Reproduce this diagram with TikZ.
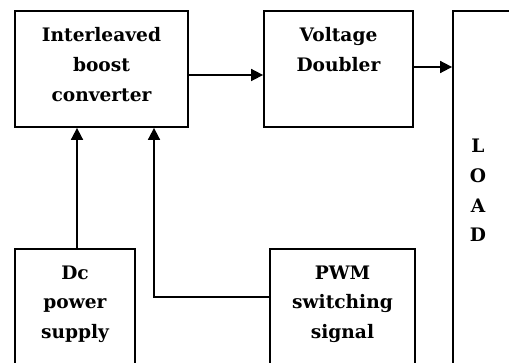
\documentclass[tikz,border=0pt]{standalone}
\usepackage{fontspec}
\setmainfont{DejaVu Serif}
\usetikzlibrary{arrows.meta}
\begin{document}
\begin{tikzpicture}[x=1pt,y=-1pt,
  blk/.style={draw,line width=1.8pt,rectangle,inner sep=0pt},
  lbl/.style={font=\bfseries\fontsize{18.6}{29.7}\selectfont,align=center,anchor=north,inner sep=0pt},
  conn/.style={line width=1.7pt,-{Triangle[length=12pt,width=12pt]}}]
\useasboundingbox (0,0) rectangle (509,363);
\clip (0,0) rectangle (509,363);
\node[blk,minimum width=173pt,minimum height=116pt] (ibc) at (101.5,69) {};
\node[blk,minimum width=149pt,minimum height=116pt] (vd) at (338.5,69) {};
\node[blk,minimum width=80pt,minimum height=380pt] (load) at (493,201) {};
\node[blk,minimum width=120pt,minimum height=140pt] (dc) at (75,319) {};
\node[blk,minimum width=145pt,minimum height=140pt] (pwm) at (342.5,319) {};
\node[lbl] (ibct) at (101.5,27.5) {Interleaved\\boost\\converter};
\node[lbl] (vdt) at (338.5,27.5) {Voltage\\Doubler};
\node[lbl] (dct) at (75,265.5) {Dc\\power\\supply};
\node[lbl] (pwmt) at (342.5,265.5) {PWM\\switching\\signal};
\node[lbl] (loadt) at (478,139) {L\\O\\A\\D};
\draw[conn] (ibc.east |- 0,75) -- (vd.west |- 0,75);
\draw[conn] (vd.east |- 0,67) -- (load.west |- 0,67);
\draw[conn] (dc.north -| 77,0) -- (ibc.south -| 77,0);
\coordinate (bend) at (154,297);
\draw[conn] (pwm.west |- bend) -- (bend) -- (ibc.south -| bend);
\end{tikzpicture}
\end{document}
